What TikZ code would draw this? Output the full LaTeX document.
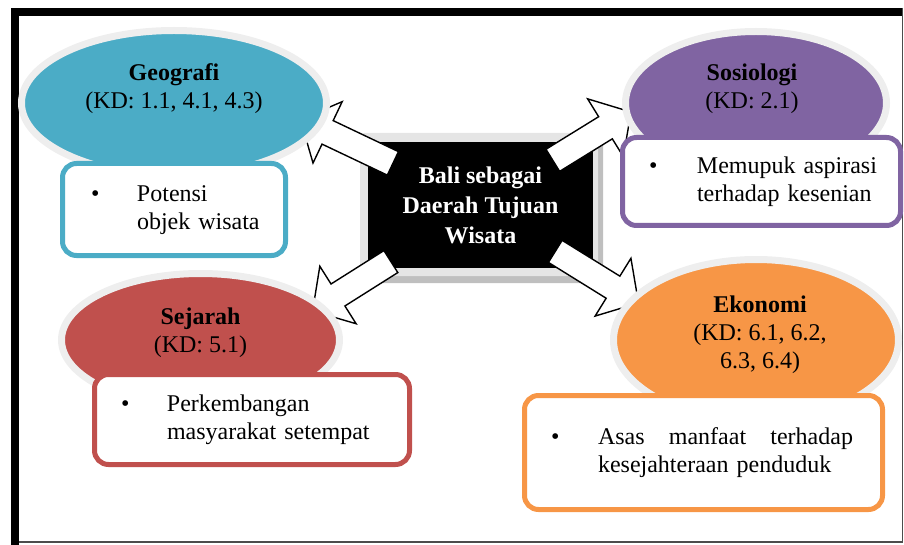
\documentclass[tikz,border=0pt]{standalone}
\usepackage{fontspec}
\setmainfont{Liberation Serif}
\usetikzlibrary{calc}
\usetikzlibrary{shapes.geometric}
\usetikzlibrary{shadows}
\pgfdeclarelayer{hublayer}
\pgfdeclarelayer{edgelayer}
\pgfdeclarelayer{nodelayer}
\pgfsetlayers{hublayer,edgelayer,nodelayer,main}
\definecolor{geoblue}{HTML}{4BACC6}
\definecolor{sospurple}{HTML}{8064A2}
\definecolor{sejred}{HTML}{C0504D}
\definecolor{ekoorange}{HTML}{F79646}
\definecolor{rimgray}{HTML}{EEEEEE}
\tikzstyle{hub_box}=[rectangle,fill=black,text=white,align=center,font=\fontsize{12}{15}\selectfont\bfseries,minimum width=112.5pt,minimum height=63pt]
\tikzstyle{topic_title}=[align=center,font=\fontsize{12}{14}\selectfont]
\tikzset{
  topic/.style={ellipse,fill=#1,draw=rimgray,line width=3.5pt,drop shadow={shadow xshift=1pt,shadow yshift=-1pt,opacity=0.25}},
  note/.style={rectangle,rounded corners=7pt,draw=#1,fill=white,line width=2.5pt,align=left,font=\fontsize{12}{14}\selectfont},
  block_arrow/.style={draw=black,fill=white,line width=0.7pt,line join=miter,
    to path={
      let \p1=($(\tikztostart)!#1!(\tikztotarget)$),
          \p2=($(\tikztotarget)!15pt!(\tikztostart)$),
          \p3=(\tikztotarget) in
      ($(\p1)!6.5pt!90:(\p3)$) -- ($(\p2)!6.5pt!90:(\p3)$) -- ($(\p2)!17pt!90:(\p3)$)
      -- (\p3) -- ($(\p2)!17pt!-90:(\p3)$) -- ($(\p2)!6.5pt!-90:(\p3)$)
      -- ($(\p1)!6.5pt!-90:(\p3)$) -- cycle}},
}
\newcommand{\bulletlines}[3]{\begin{tabular}{@{}p{#1}@{}l@{}}\textbullet & #2\\ & #3\end{tabular}}

\begin{document}
\begin{tikzpicture}[x=0.5pt,y=-0.5pt]
	\useasboundingbox (0,0) rectangle (904,545);
	\begin{pgfonlayer}{hublayer}
		\fill (11,8) rectangle (902.5,16.5);
		\fill (11,8) rectangle (19,545);
		\draw [black!70,line width=0.6pt] (902.5,8) -- (902.5,542) -- (19,542);
		\fill [black!25,rounded corners=2pt] (366,140) rectangle (603,283);
		\fill [black!10,rounded corners=2pt] (360,133) rectangle (598,276);
		\node [style={hub_box}] (hub) at (480.5,205) {Bali sebagai\\Daerah Tujuan\\Wisata};
	\end{pgfonlayer}
	\begin{pgfonlayer}{nodelayer}
		\node [topic=geoblue,minimum width=152.5pt,minimum height=72.5pt] (geo) at (174,103) {};
		\node [style={topic_title}] (geotitle) at ([yshift=7pt]geo.center) {\textbf{Geografi}\\(KD: 1.1, 4.1, 4.3)};
		\node [topic=sospurple,minimum width=130.5pt,minimum height=71.5pt] (sos) at (756,103) {};
		\node [style={topic_title}] (sostitle) at ([xshift=-2pt,yshift=7pt]sos.center) {\textbf{Sosiologi}\\(KD: 2.1)};
		\node [topic=sejred,minimum width=139pt,minimum height=66.5pt] (sej) at (200.5,340) {};
		\node [style={topic_title}] (sejtitle) at ([yshift=3.75pt]sej.center) {\textbf{Sejarah}\\(KD: 5.1)};
		\node [topic=ekoorange,minimum width=142.5pt,minimum height=80.5pt] (eko) at (756,340) {};
		\node [style={topic_title}] (ekotitle) at ([xshift=2pt,yshift=2.75pt]eko.center) {\textbf{Ekonomi}\\(KD: 6.1, 6.2,\\6.3, 6.4)};
		\node [note=geoblue,minimum width=111.5pt,minimum height=46pt,text width=83pt] (geonote) at (174,209.5) {\bulletlines{23pt}{Potensi}{objek wisata}};
		\node [note=sospurple,minimum width=139pt,minimum height=44pt,text width=112.5pt] (sosnote) at (761.5,181.5) {\bulletlines{24pt}{Memupuk aspirasi}{terhadap kesenian}};
		\node [note=sejred,minimum width=157.5pt,minimum height=45pt,text width=131pt] (sejnote) at (252,419.5) {\bulletlines{23pt}{Perkembangan}{masyarakat setempat}};
		\node [note=ekoorange,minimum width=179pt,minimum height=57pt,text width=152.5pt] (ekonote) at (703.5,452.5) {\raisebox{4.25pt}{\bulletlines{23.5pt}{\makebox[127.5pt][s]{Asas\hfill manfaat\hfill terhadap}}{kesejahteraan penduduk}}};
	\end{pgfonlayer}
	\coordinate (geotip) at (300.5,119.5);
	\coordinate (sostip) at (631,112);
	\coordinate (sejtip) at (312.6,311);
	\coordinate (ekotip) at (638.5,303);
	\begin{pgfonlayer}{edgelayer}
		\draw [block_arrow=48.5pt] (hub) to (geotip);
		\draw [block_arrow=42.5pt] (hub) to (sostip);
		\draw [block_arrow=53pt] (hub) to (sejtip);
		\draw [block_arrow=44pt] (hub) to (ekotip);
	\end{pgfonlayer}
\end{tikzpicture}
\end{document}
